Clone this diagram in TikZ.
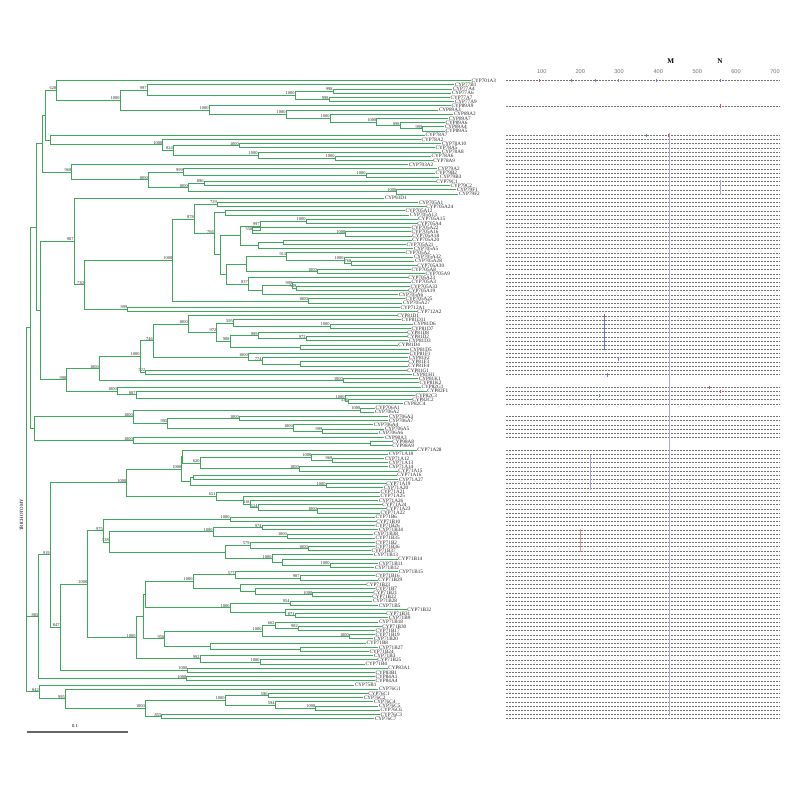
\documentclass[tikz,border=0pt]{standalone}
\usepackage{fontspec}
\setmainfont{Liberation Serif}
\newfontfamily\axf{Liberation Sans}
\definecolor{brg}{RGB}{62,168,92}
\definecolor{mkblue}{RGB}{120,120,215}
\definecolor{mkred}{RGB}{215,80,80}
\definecolor{mkgreen}{RGB}{80,170,80}
\definecolor{mkline}{RGB}{165,165,215}
\tikzset{
  br/.style={draw=brg, line width=0.95pt, line cap=rect},
  leaf/.style={anchor=west, inner sep=0.8pt, font=\fontsize{5.2}{5.2}\selectfont, text=black!85},
  bs/.style={anchor=south east, inner sep=0.3pt, font=\fontsize{4.4}{4.4}\selectfont, text=black!85},
  row/.style={draw=black!55, line width=0.42pt, dash pattern=on 2pt off 1pt},
  axn/.style={font=\axf\fontsize{5.6}{5.6}\selectfont, text=black!55},
}
\newcommand\LF[3]{%
  \pgfmathsetmacro\tmpy{80.7+(#1-1)*4.197}%
  \expandafter\xdef\csname Y-l#1\endcsname{\tmpy}%
  \expandafter\xdef\csname X-l#1\endcsname{#2}%
  \node[leaf] (l#1) at (#2,\tmpy) {#3};}
\newcommand\IN[4]{%
  \gdef\ymn{9999}\gdef\ymx{-9999}%
  \foreach \ch in {#3}{%
    \edef\yc{\csname Y-\ch\endcsname}%
    \edef\xc{\csname X-\ch\endcsname}%
    \pgfmathsetmacro\ta{min(\ymn,\yc)}\xdef\ymn{\ta}%
    \pgfmathsetmacro\tb{max(\ymx,\yc)}\xdef\ymx{\tb}%
    \draw[br] (#2,\yc) -- (\xc,\yc);%
  }%
  \draw[br] (#2,\ymn) -- (#2,\ymx);%
  \pgfmathsetmacro\ym{(\ymn+\ymx)/2}%
  \expandafter\xdef\csname Y-#1\endcsname{\ym}%
  \expandafter\xdef\csname X-#1\endcsname{#2}%
  \node[bs] (b-#1) at (#2,\ym) {#4};}
\newcommand\tick[3]{\draw[#3, line width=0.6pt] (#1,#2-1.6) -- (#1,#2+1.6);}
\begin{document}
\begin{tikzpicture}[x=1pt,y=-1pt]
\useasboundingbox (0,0) rectangle (793,793);
% leaves
\LF{1}{470.7}{CYP701A3}
\LF{2}{454}{CYP77B1}
\LF{3}{452}{CYP77A4}
\LF{4}{451}{CYP77A6}
\LF{5}{449.7}{CYP77A7}
\LF{6}{454}{CYP77A9}
\LF{7}{450.7}{CYP89A9}
\LF{8}{438}{CYP89A3}
\LF{9}{453}{CYP89A2}
\LF{10}{448}{CYP89A7}
\LF{11}{444.7}{CYP89A6}
\LF{12}{444}{CYP89A4}
\LF{13}{444.7}{CYP89A5}
\LF{14}{424.7}{CYP78A7}
\LF{15}{420.7}{CYP78A2}
\LF{16}{441}{CYP78A10}
\LF{17}{434.7}{CYP78A5}
\LF{18}{441}{CYP78A8}
\LF{19}{430.7}{CYP78A6}
\LF{20}{432.3}{CYP78A9}
\LF{21}{408}{CYP703A2}
\LF{22}{437}{CYP79A2}
\LF{23}{434.7}{CYP79B2}
\LF{24}{439}{CYP79B3}
\LF{25}{435.3}{CYP79C1}
\LF{26}{449.7}{CYP79C2}
\LF{27}{456}{CYP79F1}
\LF{28}{458}{CYP79F2}
\LF{29}{384}{CYP93D1}
\LF{30}{418}{CYP705A1}
\LF{31}{425.3}{CYP705A24}
\LF{32}{404.7}{CYP705A12}
\LF{33}{409}{CYP705A13}
\LF{34}{417.3}{CYP705A15}
\LF{35}{416.3}{CYP705A4}
\LF{36}{410.7}{CYP705A22}
\LF{37}{410.7}{CYP705A16}
\LF{38}{411.3}{CYP705A18}
\LF{39}{411.3}{CYP705A20}
\LF{40}{405.7}{CYP705A21}
\LF{41}{413}{CYP705A5}
\LF{42}{404.7}{CYP705A2}
\LF{43}{413}{CYP705A32}
\LF{44}{414}{CYP705A28}
\LF{45}{416.3}{CYP705A30}
\LF{46}{410.7}{CYP705A8}
\LF{47}{424.7}{CYP705A9}
\LF{48}{407.3}{CYP705A23}
\LF{49}{410.7}{CYP705A3}
\LF{50}{409.7}{CYP705A33}
\LF{51}{407.3}{CYP705A19}
\LF{52}{398}{CYP705A6}
\LF{53}{404.7}{CYP705A25}
\LF{54}{402}{CYP705A27}
\LF{55}{399.7}{CYP712A1}
\LF{56}{416.3}{CYP712A2}
\LF{57}{396.3}{CYP81D1}
\LF{58}{400.7}{CYP81D11}
\LF{59}{413}{CYP81D6}
\LF{60}{410.7}{CYP81D7}
\LF{61}{406.3}{CYP81D8}
\LF{62}{406.3}{CYP81D2}
\LF{63}{408}{CYP81D3}
\LF{64}{397.3}{CYP81D4}
\LF{65}{409}{CYP81D5}
\LF{66}{408.7}{CYP81F1}
\LF{67}{408}{CYP81F2}
\LF{68}{407.3}{CYP81F3}
\LF{69}{407.3}{CYP81F4}
\LF{70}{406.3}{CYP81G1}
\LF{71}{412}{CYP81H1}
\LF{72}{418}{CYP81K1}
\LF{73}{418.7}{CYP81K2}
\LF{74}{420.7}{CYP82G1}
\LF{75}{426.3}{CYP82F1}
\LF{76}{414.7}{CYP82C3}
\LF{77}{411.3}{CYP82C2}
\LF{78}{403}{CYP82C4}
\LF{79}{374.7}{CYP706A1}
\LF{80}{374}{CYP706A2}
\LF{81}{388}{CYP706A3}
\LF{82}{388}{CYP706A7}
\LF{83}{373}{CYP706A4}
\LF{84}{384}{CYP706A5}
\LF{85}{378}{CYP706A6}
\LF{86}{384}{CYP98A3}
\LF{87}{391.3}{CYP98A8}
\LF{88}{391.3}{CYP98A9}
\LF{89}{416.3}{CYP71A28}
\LF{90}{388}{CYP71A18}
\LF{91}{384}{CYP71A12}
\LF{92}{388}{CYP71A13}
\LF{93}{388}{CYP71A14}
\LF{94}{397.3}{CYP71A15}
\LF{95}{396.3}{CYP71A16}
\LF{96}{398}{CYP71A27}
\LF{97}{385.3}{CYP71A19}
\LF{98}{383}{CYP71A20}
\LF{99}{379.7}{CYP71A21}
\LF{100}{379.7}{CYP71A25}
\LF{101}{378}{CYP71A26}
\LF{102}{381.3}{CYP71A24}
\LF{103}{385.3}{CYP71A23}
\LF{104}{379.7}{CYP71A22}
\LF{105}{374.7}{CYP71B6}
\LF{106}{375.3}{CYP71B10}
\LF{107}{374.7}{CYP71B26}
\LF{108}{378}{CYP71B34}
\LF{109}{373}{CYP71B38}
\LF{110}{374.7}{CYP71B35}
\LF{111}{374.7}{CYP71B2}
\LF{112}{374.7}{CYP71B36}
\LF{113}{370.7}{CYP71B37}
\LF{114}{373}{CYP71B13}
\LF{115}{397.3}{CYP71B14}
\LF{116}{378}{CYP71B11}
\LF{117}{374}{CYP71B12}
\LF{118}{398}{CYP71B15}
\LF{119}{374.7}{CYP71B16}
\LF{120}{377.3}{CYP71B29}
\LF{121}{365.3}{CYP71B23}
\LF{122}{374.7}{CYP71B7}
\LF{123}{372.3}{CYP71B21}
\LF{124}{371.3}{CYP71B22}
\LF{125}{372}{CYP71B28}
\LF{126}{378}{CYP71B5}
\LF{127}{406.3}{CYP71B32}
\LF{128}{385.3}{CYP71B31}
\LF{129}{388}{CYP71B9}
\LF{130}{378}{CYP71B18}
\LF{131}{381.3}{CYP71B30}
\LF{132}{374.7}{CYP71B17}
\LF{133}{374.7}{CYP71B19}
\LF{134}{373}{CYP71B20}
\LF{135}{365.7}{CYP71B8}
\LF{136}{378}{CYP71B27}
\LF{137}{368.7}{CYP71B24}
\LF{138}{373}{CYP71B3}
\LF{139}{376.3}{CYP71B25}
\LF{140}{364.7}{CYP71B4}
\LF{141}{387.3}{CYP83A1}
\LF{142}{374.7}{CYP83B1}
\LF{143}{374.7}{CYP84A1}
\LF{144}{374.7}{CYP84A4}
\LF{145}{354}{CYP75B1}
\LF{146}{378}{CYP76G1}
\LF{147}{367.3}{CYP76C1}
\LF{148}{363}{CYP76C2}
\LF{149}{373}{CYP76C4}
\LF{150}{378}{CYP76C5}
\LF{151}{379.7}{CYP76C6}
\LF{152}{379.7}{CYP76C3}
\LF{153}{374}{CYP76C7}
% top clades
\IN{t1}{333}{l3,l4}{998}
\IN{t2}{329}{l5,l6}{998}
\IN{t3}{295}{t1,t2}{1000}
\IN{t4}{147}{l2,t3}{997}
\IN{t5}{422.7}{l12,l13}{999}
\IN{t6}{400}{l11,t5}{998}
\IN{t7}{376.7}{l10,t6}{1000}
\IN{t8}{330}{l9,t7}{1000}
\IN{t9}{286}{l8,t8}{1000}
\IN{t10}{209}{l7,t9}{1000}
\IN{t11}{120}{t4,t10}{1000}
\IN{t12}{56.7}{l1,t11}{628}
\IN{t13}{239.3}{l16,l17}{1000}
\IN{t14}{335}{l19,l20}{1000}
\IN{t15}{258}{l18,t14}{1000}
\IN{t16}{173.3}{t13,t15}{824}
\IN{t17}{162.7}{l15,t16}{1000}
\IN{tD}{50.7}{l14,t17}{}
\IN{tF}{45}{t12,tD}{}
\IN{t18}{366}{l23,l24}{1000}
\IN{t19}{183.3}{l22,t18}{999}
\IN{t20}{204}{l25,l26}{896}
\IN{t21}{396.7}{l27,l28}{1000}
\IN{t22}{188.3}{t20,t21}{1000}
\IN{t23}{148.3}{t19,t22}{1000}
\IN{t24}{71.7}{l21,t23}{960}
\IN{tE}{42.7}{tF,t24}{}
% 705 clade
\IN{c1}{217.3}{l30,l31}{729}
\IN{c2}{225}{l32,l33}{}
\IN{c3}{306}{l34,l35}{1000}
\IN{c4}{345.7}{l37,l38}{1000}
\IN{c5}{252.7}{l36,c4}{558}
\IN{c6}{260}{c3,c5}{997}
\IN{c7}{283.3}{l39,l40}{}
\IN{c8}{258}{c7,l41}{}
\IN{c9}{240.7}{c6,c8}{}
\IN{c10}{351.7}{l44,l45}{768}
\IN{c11}{344}{l43,c10}{1000}
\IN{c12}{286.7}{l42,c11}{915}
\IN{c13}{317.3}{l46,l47}{1000}
\IN{c14}{246.7}{c12,c13}{}
\IN{c15}{296.7}{l50,l51}{549}
\IN{c16}{292.7}{l49,c15}{999}
\IN{c17}{262}{c16,l52}{}
\IN{c18}{248.3}{l48,c17}{837}
\IN{c19}{226.7}{c14,c18}{}
\IN{c20}{220.7}{c9,c19}{}
\IN{c21}{214.3}{c2,c20}{766}
\IN{c22}{194.3}{c1,c21}{878}
\IN{c23}{308.3}{l53,l54}{1000}
\IN{c24}{172.7}{c22,c23}{1000}
\IN{c25}{127.7}{l55,l56}{999}
\IN{c26}{84.3}{c24,c25}{730}
\IN{c27}{74}{l29,c26}{987}
% 81/82 clade
\IN{d1}{330}{l59,l60}{1000}
\IN{d2}{233.3}{l58,d1}{595}
\IN{d3}{306}{l62,l63}{972}
\IN{d4}{258}{l61,d3}{999}
\IN{d5}{300}{l64,l65}{}
\IN{d6}{230}{d4,d5}{908}
\IN{d7}{216.7}{d2,d6}{972}
\IN{d8}{188.3}{l57,d7}{1000}
\IN{d9}{300}{l68,l69}{}
\IN{d10}{262}{l67,d9}{774}
\IN{d11}{248.3}{l66,d10}{1000}
\IN{d12}{153.3}{d8,d11}{746}
\IN{d13}{145.7}{l70,l71}{522}
\IN{d14}{140}{d12,d13}{1000}
\IN{d15}{343.3}{l72,l73}{1000}
\IN{d16}{99.3}{d14,d15}{1000}
\IN{d17}{348.3}{l77,l78}{538}
\IN{d18}{345}{l76,d17}{1000}
\IN{d19}{136}{l75,d18}{887}
\IN{d20}{117.3}{l74,d19}{1000}
\IN{d21}{66.7}{d16,d20}{998}
\IN{tG}{40}{c27,d21}{}
\IN{tA}{36.7}{tE,tG}{}
% 706 / 98
\IN{e1}{360.7}{l79,l80}{1000}
\IN{e2}{239.3}{l81,l82}{1000}
\IN{e3}{322.7}{l84,l85}{999}
\IN{e4}{293.3}{l83,e3}{1000}
\IN{e5}{167.7}{e2,e4}{995}
\IN{e6}{133.3}{e1,e5}{1000}
\IN{e7}{370}{l87,l88}{}
\IN{e8}{133.3}{l86,e7}{1000}
\IN{e9}{34.3}{e6,e8}{}
\IN{n30}{30}{tA,e9}{}
% 71A
\IN{f1}{332.7}{l91,l92}{968}
\IN{f2}{311.7}{l90,f1}{1000}
\IN{f3}{299.3}{l93,l94}{1000}
\IN{f4}{200}{f2,f3}{620}
\IN{f5}{182.7}{l89,f4}{}
\IN{f6}{193.3}{l95,l96}{}
\IN{f7}{326}{l97,l98}{1000}
\IN{f8}{190}{f6,f7}{}
\IN{f9}{181.7}{f5,f8}{1000}
\IN{f10}{317.3}{l103,l104}{1000}
\IN{f11}{258}{l102,f10}{524}
\IN{f12}{250}{l101,f11}{818}
\IN{f13}{243}{l100,f12}{}
\IN{f14}{216}{l99,f13}{651}
\IN{f15}{126.7}{f9,f14}{1000}
% 71B
\IN{g1}{230}{l105,l106}{1000}
\IN{g2}{262}{l107,l108}{974}
\IN{g3}{287.3}{l109,l110}{1000}
\IN{g4}{213}{g2,g3}{1000}
\IN{g5}{308.3}{l112,l113}{1000}
\IN{g6}{250}{l111,g5}{579}
\IN{g7}{330}{l116,l117}{1000}
\IN{g8}{282}{l115,g7}{}
\IN{g9}{272}{l114,g8}{1000}
\IN{g10}{225}{g6,g9}{}
\IN{g11}{109.3}{g4,g10}{538}
\IN{g12}{103.3}{g1,g11}{975}
\IN{h1}{300}{l119,l120}{987}
\IN{h2}{235}{l118,h1}{577}
\IN{h3}{312.7}{l123,l124}{1000}
\IN{h4}{255}{l122,h3}{}
\IN{h5}{240}{l121,h4}{}
\IN{h6}{193}{h2,h5}{1000}
\IN{h7}{290}{l125,l126}{954}
\IN{h8}{295}{l128,l129}{871}
\IN{h9}{285}{l127,h8}{}
\IN{h10}{230}{h7,h9}{1000}
\IN{h11}{145.7}{h6,h10}{}
\IN{h12}{298.3}{l131,l132}{982}
\IN{h13}{275}{l130,h12}{662}
\IN{h14}{349.3}{l133,l134}{1000}
\IN{h15}{262}{h13,h14}{1000}
\IN{h16}{300}{l136,l137}{}
\IN{h17}{210}{l135,h16}{}
\IN{h18}{164.7}{h15,h17}{956}
\IN{h19}{143.3}{h11,h18}{}
\IN{h20}{260}{l139,l140}{1000}
\IN{h21}{200}{l138,h20}{992}
\IN{h22}{136}{h19,h21}{1000}
\IN{h23}{87.7}{g12,h22}{1000}
\IN{h24}{187.7}{l141,l142}{1000}
\IN{h25}{60}{h23,h24}{847}
\IN{h26}{50}{f15,h25}{919}
\IN{h27}{186.7}{l143,l144}{1000}
\IN{n883}{38.7}{h26,h27}{883}
% 76
\IN{k1}{268}{l147,l148}{596}
\IN{k2}{315.7}{l150,l151}{1000}
\IN{k3}{275}{l149,k2}{594}
\IN{k4}{225}{k1,k3}{1000}
\IN{k5}{161.7}{l152,l153}{855}
\IN{k6}{145.3}{k4,k5}{1000}
\IN{k7}{65.3}{l146,k6}{995}
\IN{n842}{39.3}{l145,k7}{842}
\IN{root}{26.7}{n30,n883,n842}{}
% labels left
\node[rotate=90, font=\fontsize{4.8}{4.8}\selectfont, inner sep=0pt] (tri) at (21.6,515) {TRICHOTOMY};
\draw[draw=black!60, line width=1.3pt] (26.7,732) -- (128.3,732);
\node[font=\fontsize{4.6}{4.6}\selectfont, inner sep=0pt] (scl) at (75,726) {0.1};
% right panel
\foreach \i in {1,7,14,15,...,71,74,75,...,78,81,82,...,86,89,90,...,153}{
  \pgfmathsetmacro\ry{80.7+(\i-1)*4.197}
  \draw[row] (506,\ry) -- (780,\ry);
}
\draw[draw=mkline, line width=0.5pt] (669,133) -- (669,716);
\foreach \v/\xx in {100/541.7,200/580.3,300/619,400/658.3,500/697.3,600/736,700/775}{
  \node[axn] (ax\v) at (\xx,71.7) {\v};
}
\node[font=\bfseries\fontsize{7.2}{7.2}\selectfont] (mM) at (670.7,60.7) {M};
\node[font=\bfseries\fontsize{7.2}{7.2}\selectfont] (mN) at (720,60.7) {N};
% markers
\tick{539.3}{80.7}{mkred}
\tick{571.7}{80.7}{mkblue}
\tick{595.7}{80.7}{mkblue}
\tick{618.3}{80.7}{mkblue}
\tick{656.7}{80.7}{mkblue}
\tick{720}{80.7}{mkblue}
\tick{720}{105.9}{mkred}
\tick{646.7}{135.3}{mkgreen}
\tick{668.3}{135.3}{mkred}
\draw[mkblue, line width=0.6pt] (604,316) -- (604,350);
\tick{604}{316}{mkred}
\tick{618}{359}{mkblue}
\tick{607}{375}{mkblue}
\tick{709}{387.3}{mkred}
\tick{720}{391.5}{mkred}
\tick{599}{395.7}{mkgreen}
\draw[mkblue!70, line width=0.6pt] (590,455) -- (590,490);
\draw[mkred!60, line width=0.6pt] (580,529) -- (580,552);
\draw[mkline, line width=0.5pt] (720,180) -- (720,195);
\end{tikzpicture}
\end{document}
